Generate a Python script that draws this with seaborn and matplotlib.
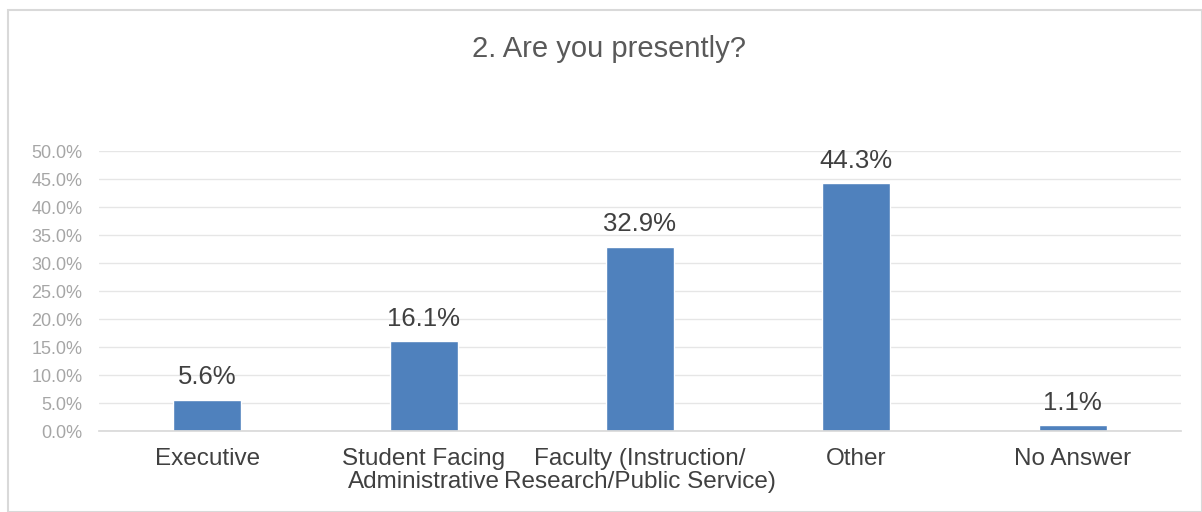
import matplotlib
matplotlib.use("Agg")
import matplotlib.pyplot as plt
import seaborn as sns
import pandas as pd
from matplotlib.patches import Rectangle

categories = ["Executive", "Student Facing\nAdministrative", "Faculty (Instruction/\nResearch/Public Service)", "Other", "No Answer"]
values = [5.6, 16.1, 32.9, 44.3, 1.1]
yticks = [0, 5, 10, 15, 20, 25, 30, 35, 40, 45, 50]

sns.set_theme(style="white")
plt.rcParams['font.family'] = ['Liberation Sans', 'DejaVu Sans']

df = pd.DataFrame({"cat": categories, "val": values})

fig = plt.figure(figsize=(12.02, 5.12), dpi=100)
ax = fig.add_axes([99/1202, 1-431/512, (1181-99)/1202, (431-151)/512])

sns.barplot(data=df, x="cat", y="val", color="#4f81bd", width=0.314, ax=ax, saturation=1)

ax.set_ylim(0, 50)
ax.set_xlim(-0.5, len(categories)-0.5)
ax.set_yticks(yticks)
ax.set_yticklabels([f"{t:.1f}%" for t in yticks], color="#a6a6a6", fontsize=13)
ax.yaxis.grid(True, color="#e6e6e6", linewidth=1)
ax.set_axisbelow(True)
for s in ["top", "right", "left"]:
    ax.spines[s].set_visible(False)
ax.spines["bottom"].set_color("#d9d9d9")
ax.tick_params(axis="both", length=0)
ax.tick_params(axis="y", pad=12)
ax.tick_params(axis="x", pad=12)
ax.set_xticks(range(len(categories)))
ax.set_xticklabels(categories, color="#404040", fontsize=17.5, linespacing=1.1)
ax.set_xlabel("")
ax.set_ylabel("")

for i, v in enumerate(values):
    ax.annotate(f"{v:.1f}%", (i, v), xytext=(0, 11), textcoords="offset points",
                ha="center", va="baseline", fontsize=18.5, color="#404040")

fig.text(609/1202, 1-57/512, "2. Are you presently?", ha="center", va="baseline",
         fontsize=21, color="#595959")

fig.patches.append(Rectangle((8/1202, 0), 1 - 8/1202, 1 - 10/512, transform=fig.transFigure,
                             fill=False, edgecolor="#d9d9d9", linewidth=1.5))

fig.savefig("out.png", dpi=100)
